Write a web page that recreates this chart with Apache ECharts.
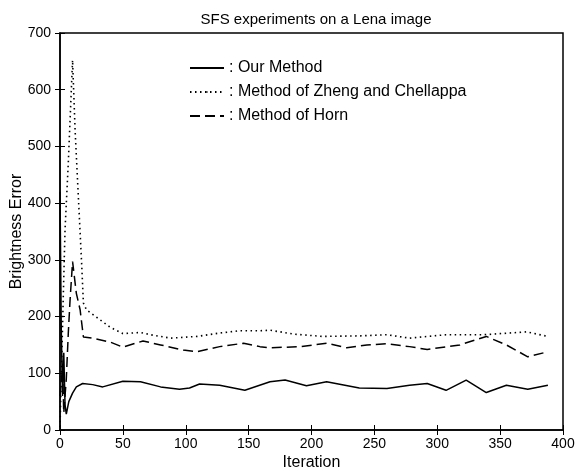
<!DOCTYPE html>
<html>
<head>
<meta charset="utf-8">
<script src="https://cdn.jsdelivr.net/npm/echarts@6/dist/echarts.min.js"></script>
<style>
  html, body { margin: 0; padding: 0; background: #fff; }
  #chart { width: 576px; height: 471px; }
</style>
</head>
<body>
<div id="chart"></div>
<script>
// Brightness error per iteration for the three SFS methods
const ourIter = [0, 1, 2, 3, 4, 5, 7, 10, 13, 18, 26, 34, 50, 64, 80, 95, 103, 111, 127, 147, 167, 179, 196, 212, 238, 260, 278, 292, 307, 323, 339, 355, 372, 388];
const ourErr  = [420, 180, 60, 136, 45, 28, 50, 65, 76, 82, 80, 76, 86, 85, 76, 72, 74, 81, 79, 70, 85, 88, 78, 85, 74, 73, 79, 82, 70, 88, 66, 79, 72, 79];

const zhengIter = [0, 1.3, 2.6, 4, 6.6, 9, 10, 12, 14.6, 17.2, 18.6, 21, 29, 40, 50, 64, 72, 88, 109, 127, 143, 159, 167, 186, 209, 239, 260, 278, 307, 337, 371, 388];
const zhengErr  = [5, 118, 235, 353, 471, 600, 652, 529, 411, 294, 224, 212, 199, 181, 170, 172, 168, 162, 165, 171, 175, 175, 176, 169, 165, 166, 168, 162, 168, 168, 173, 165];

const hornIter = [0, 2, 3, 5, 6.6, 8, 10, 13, 16, 18.6, 26, 40, 50, 66, 80, 98, 109, 127, 146, 159, 167, 191, 212, 228, 244, 260, 278, 292, 318, 339, 355, 372, 388];
const hornErr  = [60, 110, 30, 90, 171, 229, 297, 241, 212, 164, 162, 155, 146, 157, 150, 141, 138, 147, 153, 147, 145, 147, 153, 145, 150, 152, 147, 142, 150, 165, 150, 129, 138];

const xTicks = [0, 50, 100, 150, 200, 250, 300, 350, 400];
const yTicks = [0, 100, 200, 300, 400, 500, 600, 700];

const seriesNames = ['Our Method', 'Method of Zheng and Chellappa', 'Method of Horn'];

const pairs = (xs, ys) => xs.map((x, i) => [x, ys[i]]);

const FONT = 'Liberation Sans, Arial, Helvetica, sans-serif';
const INK = '#000';

const chart = echarts.init(document.getElementById('chart'), null, { renderer: 'canvas' });

const tickStyle = { show: true, inside: true, length: 5, lineStyle: { color: INK, width: 1 } };

chart.setOption({
  animation: false,
  backgroundColor: '#fff',
  title: {
    text: 'SFS experiments on a Lena image',
    left: 311, top: 7, textAlign: 'center',
    textStyle: { fontFamily: FONT, fontSize: 15, fontWeight: 'normal', color: INK }
  },
  grid: {
    left: 60, right: 13, top: 33, bottom: 41,
    containLabel: false, outerBoundsMode: 'none',
    show: true, borderColor: INK, borderWidth: 1.5, backgroundColor: 'transparent'
  },
  legend: {
    orient: 'vertical', left: 184, top: 55,
    itemWidth: 34, itemHeight: 2, itemGap: 8,
    data: seriesNames,
    formatter: name => ': ' + name,
    textStyle: { fontFamily: FONT, fontSize: 16, color: INK },
    selectedMode: false
  },
  xAxis: [{
    type: 'value', min: xTicks[0], max: xTicks[xTicks.length - 1], interval: 50,
    name: 'Iteration', nameLocation: 'middle', nameGap: 25, nameMoveOverlap: false,
    nameTextStyle: { fontFamily: FONT, fontSize: 16, color: INK },
    axisLine: { show: true, lineStyle: { color: INK, width: 1.5 } },
    axisTick: tickStyle,
    axisLabel: { fontFamily: FONT, fontSize: 14, color: INK, margin: 7 },
    splitLine: { show: false }
  }, {
    type: 'value', position: 'top', min: xTicks[0], max: xTicks[xTicks.length - 1], interval: 50,
    axisLine: { show: false }, axisTick: tickStyle, axisLabel: { show: false }, splitLine: { show: false }
  }],
  yAxis: [{
    type: 'value', min: yTicks[0], max: yTicks[yTicks.length - 1], interval: 100,
    name: 'Brightness Error', nameLocation: 'middle', nameGap: 35, nameRotate: 90, nameMoveOverlap: false,
    nameTextStyle: { fontFamily: FONT, fontSize: 16, color: INK },
    axisLine: { show: true, lineStyle: { color: INK, width: 1.5 } },
    axisTick: tickStyle,
    axisLabel: { fontFamily: FONT, fontSize: 14, color: INK, margin: 9 },
    splitLine: { show: false }
  }, {
    type: 'value', position: 'right', min: yTicks[0], max: yTicks[yTicks.length - 1], interval: 100,
    axisLine: { show: false }, axisTick: tickStyle, axisLabel: { show: false }, splitLine: { show: false }
  }],
  series: [{
    name: seriesNames[0], type: 'line', data: pairs(ourIter, ourErr),
    showSymbol: false, symbol: 'none', smooth: false,
    lineStyle: { color: INK, width: 1.5, type: 'solid' },
    itemStyle: { color: INK }
  }, {
    name: seriesNames[1], type: 'line', data: pairs(zhengIter, zhengErr),
    showSymbol: false, symbol: 'none',
    lineStyle: { color: INK, width: 1.6, type: [1.5, 3.5] },
    itemStyle: { color: INK }
  }, {
    name: seriesNames[2], type: 'line', data: pairs(hornIter, hornErr),
    showSymbol: false, symbol: 'none',
    lineStyle: { color: INK, width: 1.5, type: [10, 5] },
    itemStyle: { color: INK }
  }]
});
</script>
</body>
</html>
